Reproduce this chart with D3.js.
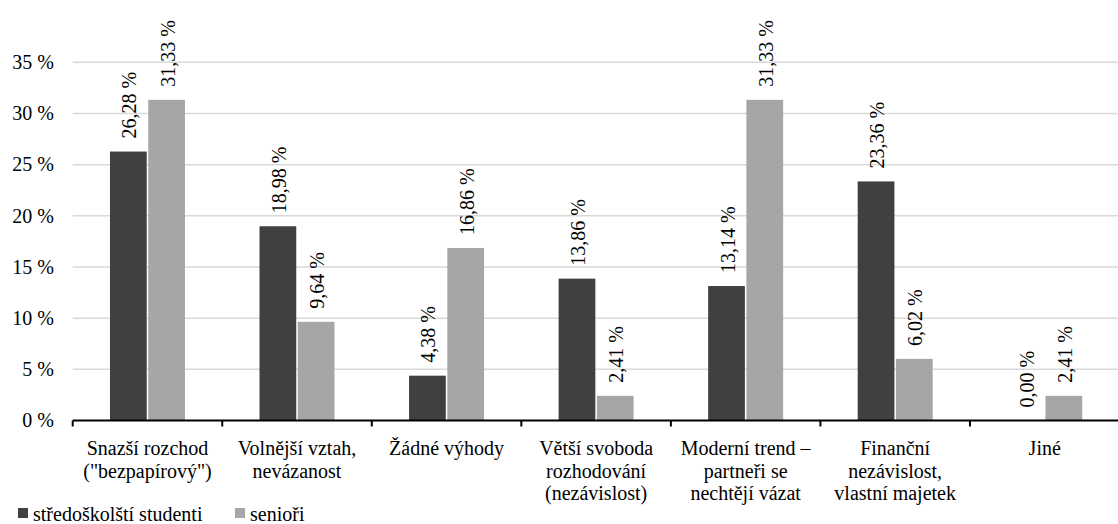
<!DOCTYPE html>
<html>
<head>
<meta charset="utf-8">
<script src="https://cdn.jsdelivr.net/npm/d3@7"></script>
</head>
<body style="margin:0">
<script>
const categories = [
  ["Snazší rozchod", "(\"bezpapírový\")"],
  ["Volnější vztah,", "nevázanost"],
  ["Žádné výhody"],
  ["Větší svoboda", "rozhodování", "(nezávislost)"],
  ["Moderní trend –", "partneři se", "nechtějí vázat"],
  ["Finanční", "nezávislost,", "vlastní majetek"],
  ["Jiné"]
];
const seriesNames = ["středoškolští studenti", "senioři"];
const studenti = [26.28, 18.98, 4.38, 13.86, 13.14, 23.36, 0.00];
const seniori = [31.33, 9.64, 16.86, 2.41, 31.33, 6.02, 2.41];
const yTicks = [0, 5, 10, 15, 20, 25, 30, 35];
const colors = ["#404040", "#a6a6a6"];

const W = 1118, H = 524;
const FONT = "Times New Roman";
const svg = d3.select("body").append("svg").attr("width", W).attr("height", H)
  .style("display", "block").attr("font-family", FONT);

const catKeys = categories.map((c, i) => i);
const x = d3.scaleBand().domain(catKeys).range([72.7, 1119.5]).padding(0);
const y = d3.scaleLinear().domain([0, 35]).range([420.5, 62.3]);
const groupW = 75;
const xs = d3.scaleBand().domain([0, 1]).range([0, groupW]).paddingInner(0.04);

svg.append("g").selectAll("line").data(yTicks.filter(t => t > 0)).join("line")
  .attr("x1", 72.7).attr("x2", W).attr("y1", d => y(d)).attr("y2", d => y(d))
  .attr("stroke", "#d9d9d9").attr("stroke-width", 1.5);

svg.append("g").selectAll("text").data(yTicks).join("text")
  .attr("font-family", FONT)
  .attr("x", 54).attr("y", d => y(d)).attr("dy", "0.34em")
  .attr("text-anchor", "end").attr("font-size", 20)
  .text(d => d + " %");

const data = [];
catKeys.forEach(i => {
  [studenti[i], seniori[i]].forEach((v, s) => data.push({ i, s, v }));
});
const fmt = v => v.toFixed(2).replace(".", ",") + " %";
const bx = d => x(d.i) + (x.bandwidth() - groupW) / 2 + xs(d.s);

svg.append("g").selectAll("rect").data(data).join("rect")
  .attr("x", bx).attr("width", xs.bandwidth())
  .attr("y", d => y(d.v)).attr("height", d => y(0) - y(d.v))
  .attr("fill", d => colors[d.s]);

svg.append("g").selectAll("text").data(data).join("text")
  .attr("font-family", FONT)
  .attr("transform", d => `translate(${bx(d) + xs.bandwidth() / 2},${y(d.v) - 13}) rotate(-90)`)
  .attr("dy", "0.4em").attr("text-anchor", "start").attr("font-size", 20)
  .text(d => fmt(d.v));

const axis = svg.append("g");
axis.append("line").attr("x1", 72.7).attr("x2", W).attr("y1", y(0)).attr("y2", y(0))
  .attr("stroke", "#000").attr("stroke-width", 2);
axis.selectAll("line.tick").data(catKeys.concat([7])).join("line").attr("class", "tick")
  .attr("x1", d => d < 7 ? x(d) : x(6) + x.bandwidth())
  .attr("x2", d => d < 7 ? x(d) : x(6) + x.bandwidth())
  .attr("y1", y(0)).attr("y2", y(0) + 6)
  .attr("stroke", "#000").attr("stroke-width", 2);

const cl = svg.append("g").selectAll("text").data(catKeys).join("text")
  .attr("font-family", FONT)
  .attr("text-anchor", "middle").attr("font-size", 20)
  .attr("x", d => x(d) + x.bandwidth() / 2).attr("y", 455);
cl.selectAll("tspan").data(d => categories[d].map(t => ({ t, cx: x(d) + x.bandwidth() / 2 }))).join("tspan")
  .attr("x", d => d.cx).attr("dy", (d, j) => j === 0 ? 0 : 22.5)
  .text(d => d.t);

const legendX = [18, 235];
const lg = svg.append("g").selectAll("g").data(seriesNames).join("g")
  .attr("transform", (d, i) => `translate(${legendX[i]},0)`);
lg.append("rect").attr("x", 0).attr("y", 508).attr("width", 10).attr("height", 10)
  .attr("fill", (d, i) => colors[i]);
lg.append("text").attr("font-family", FONT)
  .attr("x", 15).attr("y", 521).attr("font-size", 20).text(d => d);
</script>
</body>
</html>
